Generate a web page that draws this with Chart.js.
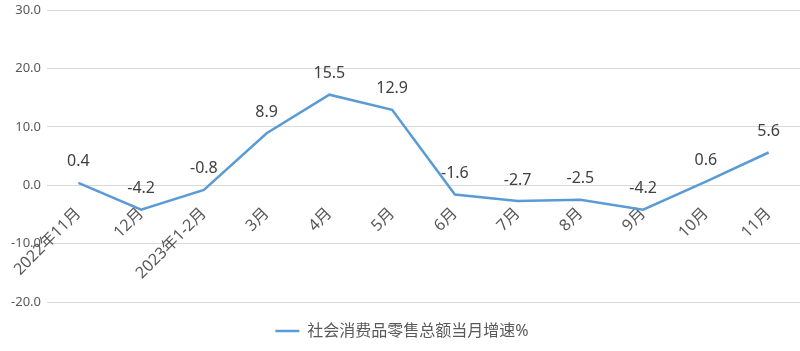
<!DOCTYPE html>
<html>
<head>
<meta charset="utf-8">
<script src="https://cdn.jsdelivr.net/npm/chart.js@4/dist/chart.umd.min.js"></script>
<style>
  html, body { margin: 0; padding: 0; background: #fff; }
  #wrap { width: 800px; height: 351px; position: relative; }
</style>
</head>
<body>
<div id="wrap"><canvas id="chart"></canvas></div>
<script>
const months = ['2022年11月', '12月', '2023年1-2月', '3月', '4月', '5月', '6月', '7月', '8月', '9月', '10月', '11月'];
const growth = [0.4, -4.2, -0.8, 8.9, 15.5, 12.9, -1.6, -2.7, -2.5, -4.2, 0.6, 5.6];
const seriesName = '社会消费品零售总额当月增速%';
const yTicks = [-20, -10, 0, 10, 20, 30];

const FONT = "'Noto Sans', 'Noto Sans CJK SC', sans-serif";

// value labels above each point
const pointLabels = {
    id: 'pointLabels',
    afterDatasetsDraw(chart) {
        const ctx = chart.ctx;
        const meta = chart.getDatasetMeta(0);
        ctx.save();
        ctx.font = '16px ' + FONT;
        ctx.fillStyle = '#404040';
        ctx.textAlign = 'center';
        ctx.textBaseline = 'middle';
        meta.data.forEach((pt, i) => {
            ctx.fillText(growth[i].toFixed(1), pt.x, pt.y - 21);
        });
        ctx.restore();
    }
};

new Chart(document.getElementById('chart').getContext('2d'), {
    type: 'line',
    data: {
        labels: months,
        datasets: [{
            label: seriesName,
            data: growth,
            borderColor: '#5b9bd5',
            backgroundColor: '#5b9bd5',
            borderWidth: 2.5,
            pointRadius: 0,
            pointStyle: 'line',
            tension: 0
        }]
    },
    options: {
        responsive: true,
        maintainAspectRatio: false,
        animation: false,
        layout: { padding: { top: 10, right: 0, left: 4, bottom: 2 } },
        plugins: {
            legend: {
                position: 'bottom',
                labels: {
                    usePointStyle: true,
                    pointStyleWidth: 24,
                    color: '#595959',
                    font: { family: FONT, size: 16 },
                    padding: 21
                }
            },
            tooltip: { enabled: false }
        },
        scales: {
            x: {
                position: { y: 0 },
                offset: true,
                grid: { display: false, offset: true },
                border: { display: false },
                ticks: {
                    minRotation: 45,
                    maxRotation: 45,
                    autoSkip: false,
                    color: '#595959',
                    font: { family: FONT, size: 16 },
                    padding: 11
                }
            },
            y: {
                min: -20,
                max: 30,
                afterBuildTicks: axis => { axis.ticks = yTicks.map(v => ({ value: v })); },
                afterFit: axis => {
                    axis.width = 43;
                    axis.paddingTop = 0;
                    axis.paddingBottom = 0;
                },
                grid: { color: '#d9d9d9', drawTicks: false },
                border: { display: false },
                ticks: {
                    color: '#595959',
                    font: { family: FONT, size: 13 },
                    padding: 6,
                    callback: v => v.toFixed(1)
                }
            }
        }
    },
    plugins: [pointLabels]
});
</script>
</body>
</html>
